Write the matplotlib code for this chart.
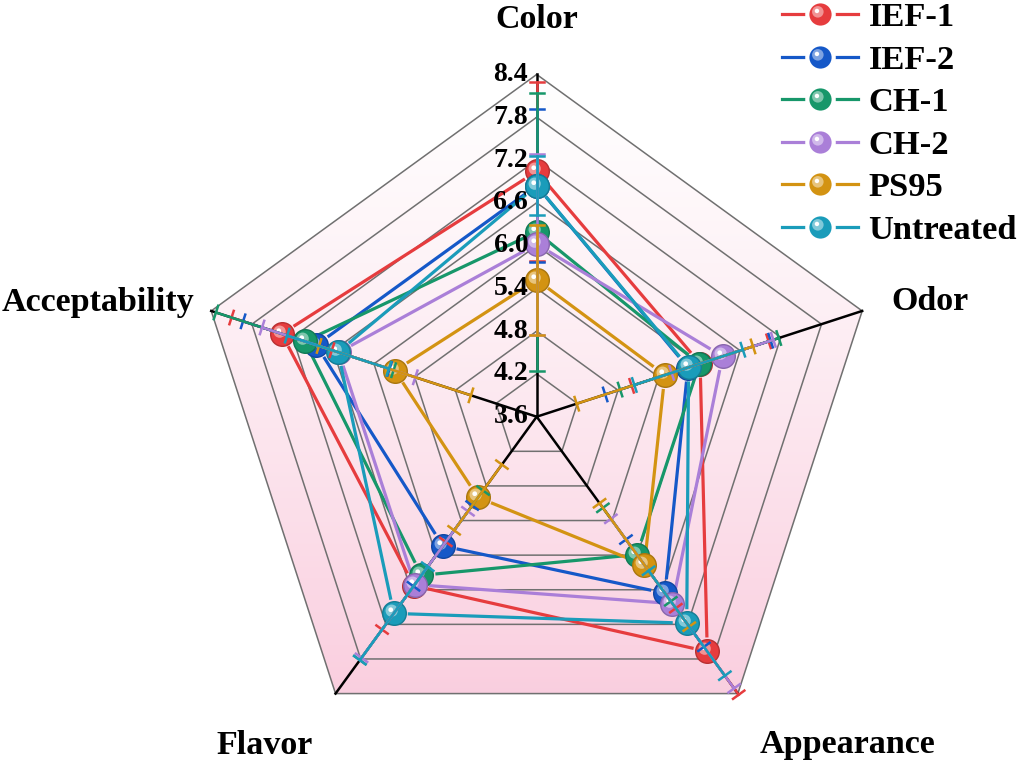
import numpy as np
import matplotlib
matplotlib.use('Agg')
import matplotlib.pyplot as plt
from matplotlib.patches import Polygon
from matplotlib.path import Path
from matplotlib.lines import Line2D
from matplotlib.colors import to_rgb

# data (mean scores and error half-widths)
attributes = ['Color', 'Odor', 'Appearance', 'Flavor', 'Acceptability']
groups = ['IEF-1', 'IEF-2', 'CH-1', 'CH-2', 'PS95', 'Untreated']
colors = ['#e63c3e', '#1558c8', '#17976a', '#aa7fd8', '#d39312', '#1a9cba']

ief1 = [7.04, 6.01, 7.67, 6.53, 7.36]
ief1_err = [1.26, 1.01, 0.75, 0.76, 0.74]
ief2 = [6.84, 5.83, 6.66, 5.84, 6.85]
ief2_err = [1.07, 1.22, 0.93, 0.70, 1.08]
ch1 = [6.19, 6.00, 5.99, 6.35, 7.02]
ch1_err = [1.95, 1.17, 0.81, 1.47, 1.31]
ch2 = [6.02, 6.34, 6.84, 6.51, 6.52]
ch2_err = [1.27, 0.75, 1.47, 1.27, 1.13]
ps95 = [5.52, 5.49, 6.17, 5.00, 5.69]
ps95_err = [0.77, 1.30, 1.07, 0.57, 1.12]
untreated = [6.84, 5.84, 7.18, 7.01, 6.53]
untreated_err = [0.41, 0.80, 0.91, 0.81, 0.75]

ticks = [3.6, 4.2, 4.8, 5.4, 6.0, 6.6, 7.2, 7.8, 8.4]

means = [ief1, ief2, ch1, ch2, ps95, untreated]
errs = [ief1_err, ief2_err, ch1_err, ch2_err, ps95_err, untreated_err]

serif = 'Liberation Serif'
n = len(attributes)
theta = np.deg2rad(90 - 360 / n * np.arange(n))
r0 = ticks[0]


def xy(v, k):
    r = np.asarray(v) - r0
    return r * np.cos(theta[k]), r * np.sin(theta[k])


def spot(cx, cy, rad):
    # offset circle used as highlight on the "sphere" markers
    c = Path.circle((cx, cy), rad)
    verts = np.vstack([[0.5, 0.0], c.vertices])
    codes = np.concatenate([[Path.MOVETO], c.codes])
    return Path(verts, codes)


def tint(c, f):
    c = np.array(to_rgb(c))
    return tuple(c + (1 - c) * f)


def shade(c, f):
    return tuple(np.array(to_rgb(c)) * f)


hl1 = spot(-0.12, 0.12, 0.26)
hl2 = spot(-0.16, 0.16, 0.10)

S = 71.3  # px per unit
cx, cy = 536.7, 416.7
fig = plt.figure(figsize=(10.19, 7.63), dpi=100)
ax = fig.add_axes([0, 0, 1, 1])
ax.set_xlim(-cx / S, (1019 - cx) / S)
ax.set_ylim(-(763 - cy) / S, cy / S)
ax.axis('off')

# background gradient inside outer pentagon
outer = np.array([xy(ticks[-1], k) for k in range(n)])
poly = Polygon(outer, closed=True, fc='none', ec='none')
ax.add_patch(poly)
grad = np.linspace(0, 1, 256)[:, None]
top = np.array([1.0, 0.998, 0.998])
bot = np.array([0.98, 0.81, 0.875])
img = top + (bot - top) * (grad[..., None] ** 1.2)
img = np.repeat(img, 2, axis=1)
im = ax.imshow(img, extent=[outer[:, 0].min(), outer[:, 0].max(),
                            outer[:, 1].min(), outer[:, 1].max()],
               origin='upper', aspect='auto', zorder=0)
im.set_clip_path(poly)

# pentagon grid
for t in ticks[1:]:
    g = np.array([xy(t, k) for k in list(range(n)) + [0]])
    ax.plot(g[:, 0], g[:, 1], color='#707070', lw=1.1, zorder=1)

# spokes
for k in range(n):
    ex, ey = xy(ticks[-1], k)
    ax.plot([0, ex], [0, ey], color='black', lw=1.8, zorder=2)

# radial tick labels along the Color axis
for t in ticks:
    ax.text(-0.12, t - r0, f'{t:.1f}', ha='right', va='center',
            fontsize=20, fontweight='bold', family=serif, zorder=6)

# category labels
lab_pos = [(537, 20), (930, 302), (848, 745), (265, 745), (98, 302)]
for name, (px, py) in zip(attributes, lab_pos):
    ax.text((px - cx) / S, (cy - py) / S, name, ha='center', va='center',
            fontsize=24.5, fontweight='bold', family=serif)

gap = 14 / S
cap = 7 / S
for m, e, c in zip(means, errs, colors):
    pts = np.array([xy(m[k], k) for k in range(n)])
    # polygon segments with a gap around the markers
    for k in range(n):
        p0 = pts[k]
        p1 = pts[(k + 1) % n]
        d = p1 - p0
        L = np.hypot(*d)
        if L <= 2 * gap:
            continue
        u = d / L
        a = p0 + u * gap
        b = p1 - u * gap
        ax.plot([a[0], b[0]], [a[1], b[1]], color=c, lw=2.3, zorder=3,
                solid_capstyle='butt')
    ax.plot(pts[:, 0], pts[:, 1], ls='', marker='o', ms=17, mfc=c,
            mec=shade(c, 0.8), mew=1.0, zorder=4)
    ax.plot(pts[:, 0], pts[:, 1], ls='', marker=hl1, ms=17,
            mfc=tint(c, 0.45), mec='none', zorder=4)
    ax.plot(pts[:, 0], pts[:, 1], ls='', marker=hl2, ms=17,
            mfc='white', mec='none', zorder=4)

for m, e, c in zip(means, errs, colors):
    for k in range(n):
        lo = m[k] - e[k]
        hi = m[k] + e[k]
        x0, y0 = xy(lo, k)
        x1, y1 = xy(hi, k)
        ax.plot([x0, x1], [y0, y1], color=c, lw=1.8, zorder=5)
        px_, py_ = -np.sin(theta[k]), np.cos(theta[k])
        for xe, ye in [(x0, y0), (x1, y1)]:
            ax.plot([xe - cap * px_, xe + cap * px_],
                    [ye - cap * py_, ye + cap * py_], color=c, lw=1.8,
                    zorder=5)

# legend
handles = []
for c in colors:
    base = Line2D([], [], color=c, lw=2.3, marker='o', ms=19, mfc=c,
                  mec='white', mew=3)
    h1 = Line2D([], [], ls='', marker=hl1, ms=16, mfc=tint(c, 0.45),
                mec='none')
    h2 = Line2D([], [], ls='', marker=hl2, ms=16, mfc='white', mec='none')
    handles.append((base, h1, h2))
fig.legend(handles, groups, loc='upper right', bbox_to_anchor=(0.998, 0.997),
           frameon=False, prop=dict(family=serif, weight='bold', size=24.8),
           handlelength=2.2, handletextpad=0.3, labelspacing=0.33,
           borderaxespad=0.0, borderpad=0.0)

fig.savefig('out.png', dpi=100)
